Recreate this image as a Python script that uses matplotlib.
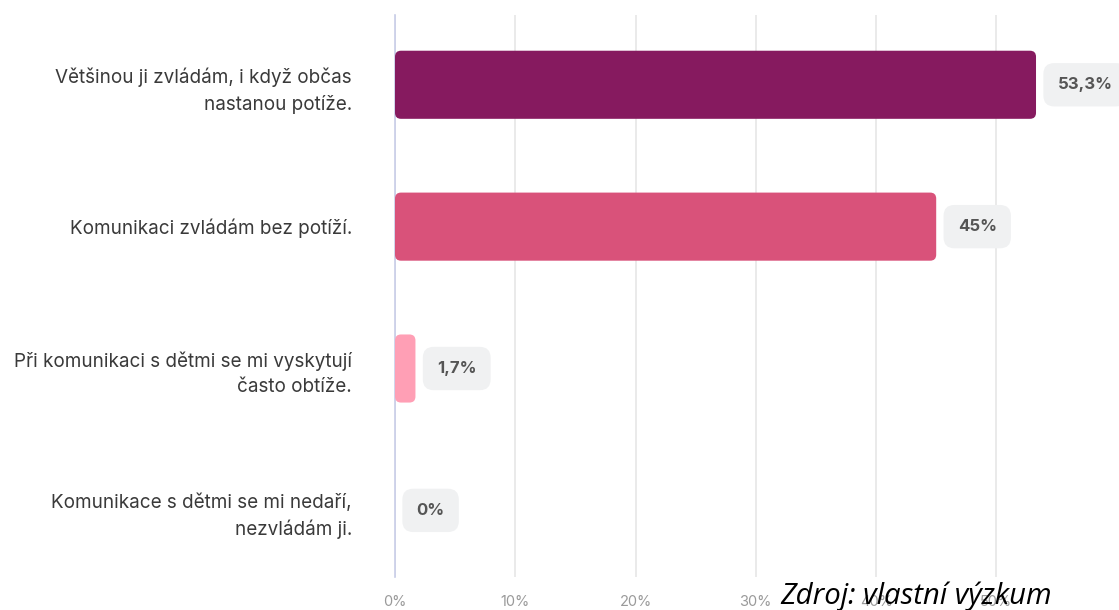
import matplotlib.pyplot as plt
from matplotlib.patches import FancyBboxPatch

# data
categories = ["Většinou ji zvládám, i když občas\nnastanou potíže.",
              "Komunikaci zvládám bez potíží.",
              "Při komunikaci s dětmi se mi vyskytují\nčasto obtíže.",
              "Komunikace s dětmi se mi nedaří,\nnezvládám ji."]
values = [53.3, 45, 1.7, 0]
value_labels = ["53,3%", "45%", "1,7%", "0%"]
colors = ["#861a5f", "#d9527a", "#ff9fb5", "#ffffff"]
xticks = [0, 10, 20, 30, 40, 50]
xtick_labels = ["0%", "10%", "20%", "30%", "40%", "50%"]

plt.rcParams['font.family'] = ['Inter', 'DejaVu Sans']

fig = plt.figure(figsize=(11.19, 6.10), dpi=100)
ax = fig.add_axes([0.353, 0.054, 0.647, 0.921])

pos = list(range(len(categories)))
bars = ax.barh(pos, values, height=0.48, color=colors)
ax.set_xlim(0, 60.2)
ax.set_ylim(3.47, -0.49)

# rounded bars
for b in bars:
    b.set_visible(False)
    if b.get_width() > 0:
        r = FancyBboxPatch((b.get_x(), b.get_y()), b.get_width(), b.get_height(),
                           boxstyle="round,pad=0,rounding_size=0.5",
                           mutation_aspect=12.1 / 142,
                           facecolor=b.get_facecolor(), edgecolor="none", zorder=3)
        ax.add_patch(r)

# value labels
for i, v in enumerate(values):
    ax.annotate(value_labels[i], (v, i), xytext=(15.5, 0), textcoords="offset points",
                ha="left", va="center", fontsize=12, fontweight="bold", color="#555555",
                bbox=dict(boxstyle="round,pad=0.85,rounding_size=0.65",
                          facecolor="#f0f1f2", edgecolor="none"),
                annotation_clip=False, zorder=4)

ax.set_yticks(pos)
ax.set_yticklabels(categories, fontsize=13.6, color="#3a3a3a", linespacing=1.5)
ax.set_xticks(xticks)
ax.set_xticklabels(xtick_labels, fontsize=10.5, color="#9a9a9a")
ax.tick_params(axis="y", length=0, pad=31)
ax.tick_params(axis="x", length=0, pad=13)

ax.grid(axis="x", color="#e6e6e6", linewidth=1.2, zorder=0)
ax.set_axisbelow(True)
for s in ["top", "right", "bottom"]:
    ax.spines[s].set_visible(False)
ax.spines["left"].set_color("#c8cde8")
ax.spines["left"].set_linewidth(1.2)

fig.text(0.697, 0.022, "Zdroj: vlastní výzkum", fontsize=21.2, style="italic",
         family="Open Sans", color="black", va="center", ha="left")

fig.savefig("out.png", dpi=100)
